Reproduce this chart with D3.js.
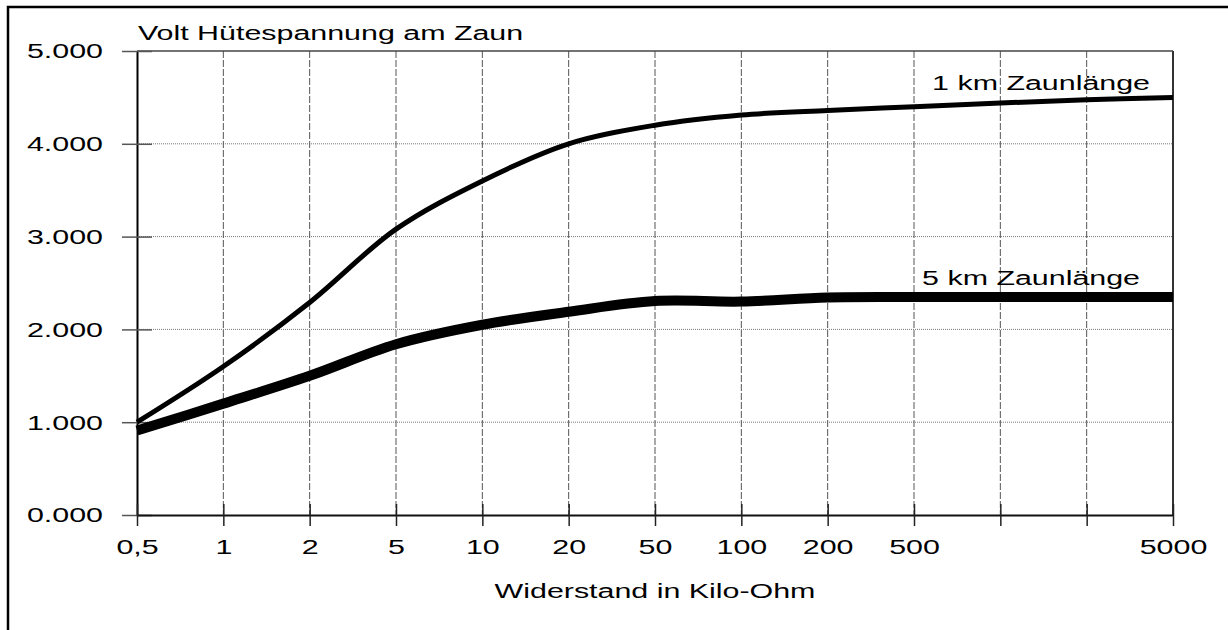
<!DOCTYPE html>
<html>
<head>
<meta charset="utf-8">
<script src="https://cdn.jsdelivr.net/npm/d3@7"></script>
<style>
    body { margin: 0; background: #fff; }
    text { font-family: "Liberation Sans", Arial, sans-serif; fill: #000; }
</style>
</head>
<body>
<div id="chart"></div>
<script>
// resistance steps on the x axis (two of them carry no label in the original)
const resistance = ['0,5', '1', '2', '5', '10', '20', '50', '100', '200', '500', '1000', '2000', '5000'];
const tickLabels = ['0,5', '1', '2', '5', '10', '20', '50', '100', '200', '500', '', '', '5000'];
const yTicks = [0, 1000, 2000, 3000, 4000, 5000];

// voltage on the fence, in volt
const km1 = [1000, 1600, 2290, 3080, 3600, 4000, 4200, 4310, 4360, 4400, 4440, 4475, 4500];
const km5 = [910, 1200, 1500, 1840, 2050, 2190, 2305, 2300, 2345, 2350, 2350, 2350, 2350];

const seriesNames = ['1 km  Zaunlänge', '5 km  Zaunlänge'];

const W = 1228, H = 630;
const margin = {top: 51, right: 55, bottom: 115, left: 137};
const width = W - margin.left - margin.right;
const height = H - margin.top - margin.bottom;
// the fonts in the picture are stretched sideways
const sx = 1.52;

const svg = d3.select('#chart').append('svg')
    .attr('width', W)
    .attr('height', H);

// outer frame, runs off the right and bottom edge
svg.append('rect')
    .attr('x', 8).attr('y', 7)
    .attr('width', W + 20).attr('height', H + 20)
    .attr('fill', 'none')
    .attr('stroke', '#000')
    .attr('stroke-width', 2.5);

const g = svg.append('g')
    .attr('transform', `translate(${margin.left},${margin.top})`);

const xScale = d3.scalePoint()
    .domain(resistance)
    .range([0, width]);

const yScale = d3.scaleLinear()
    .domain([0, 5000])
    .range([height, 0]);

// grid
g.selectAll('.hgrid')
    .data(yTicks.filter(d => d > 0 && d < 5000))
    .join('line')
    .attr('class', 'hgrid')
    .attr('x1', 0).attr('x2', width)
    .attr('y1', d => yScale(d)).attr('y2', d => yScale(d))
    .attr('stroke', '#777')
    .attr('stroke-width', 1)
    .attr('stroke-dasharray', '1,1');

g.selectAll('.vgrid')
    .data(resistance.slice(1, -1))
    .join('line')
    .attr('class', 'vgrid')
    .attr('x1', d => xScale(d)).attr('x2', d => xScale(d))
    .attr('y1', 0).attr('y2', height)
    .attr('stroke', '#555')
    .attr('stroke-width', 1)
    .attr('stroke-dasharray', '7,2');

// top and right edge of the plot
g.append('line')
    .attr('x1', 0).attr('x2', width)
    .attr('y1', 0).attr('y2', 0)
    .attr('stroke', '#444').attr('stroke-width', 1.5);
g.append('line')
    .attr('x1', width).attr('x2', width)
    .attr('y1', 0).attr('y2', height)
    .attr('stroke', '#333').attr('stroke-width', 2);

// axes
const yAxis = g.append('g')
    .call(d3.axisLeft(yScale)
        .tickValues(yTicks)
        .tickSize(15)
        .tickSizeOuter(0)
        .tickFormat(d => d3.format('.3f')(d / 1000)));
yAxis.select('.domain').attr('stroke', '#000').attr('stroke-width', 2);
yAxis.selectAll('.tick line').attr('x2', -15).attr('x1', 15).attr('stroke', '#555').attr('stroke-width', 1.5);
yAxis.selectAll('.tick text')
    .attr('x', -34 / sx)
    .attr('dy', '0.34em')
    .attr('transform', `scale(${sx},1)`)
    .style('font-size', '20px')
    .style('font-family', '"Liberation Sans", Arial, sans-serif')
    .attr('fill', '#000');

const xAxis = g.append('g')
    .attr('transform', `translate(0,${height})`)
    .call(d3.axisBottom(xScale)
        .tickSize(11)
        .tickSizeOuter(0)
        .tickFormat((d, i) => tickLabels[i]));
xAxis.select('.domain').attr('stroke', '#111').attr('stroke-width', 2);
xAxis.selectAll('.tick line').attr('y1', -11).attr('stroke', '#222').attr('stroke-width', 1.5);
xAxis.selectAll('.tick text')
    .attr('y', 39)
    .attr('dy', 0)
    .attr('transform', `scale(${sx},1)`)
    .style('font-size', '20px')
    .style('font-family', '"Liberation Sans", Arial, sans-serif')
    .attr('fill', '#000');

// lines
const line = d3.line()
    .x((d, i) => xScale(resistance[i]))
    .y(d => yScale(d))
    .curve(d3.curveCatmullRom.alpha(0.5));

g.append('path')
    .datum(km5)
    .attr('d', line)
    .attr('fill', 'none')
    .attr('stroke', '#000')
    .attr('stroke-width', 10);

g.append('path')
    .datum(km1)
    .attr('d', line)
    .attr('fill', 'none')
    .attr('stroke', '#000')
    .attr('stroke-width', 5);

// stretched text helper
function label(x, y, txt, anchor) {
    svg.append('text')
        .attr('transform', `translate(${x},${y}) scale(${sx},1)`)
        .attr('text-anchor', anchor)
        .style('font-size', '20px')
        .text(txt);
}

label(margin.left + 1, 40, 'Volt Hütespannung am Zaun', 'start');
label(margin.left + width / 2, 598, 'Widerstand in Kilo-Ohm', 'middle');

const last = resistance[resistance.length - 1];
label(margin.left + xScale(last) - 23, margin.top + yScale(km1[km1.length - 1]) - 7, seriesNames[0], 'end');
label(margin.left + xScale(last) - 33, margin.top + yScale(km5[km5.length - 1]) - 12, seriesNames[1], 'end');
</script>
</body>
</html>
